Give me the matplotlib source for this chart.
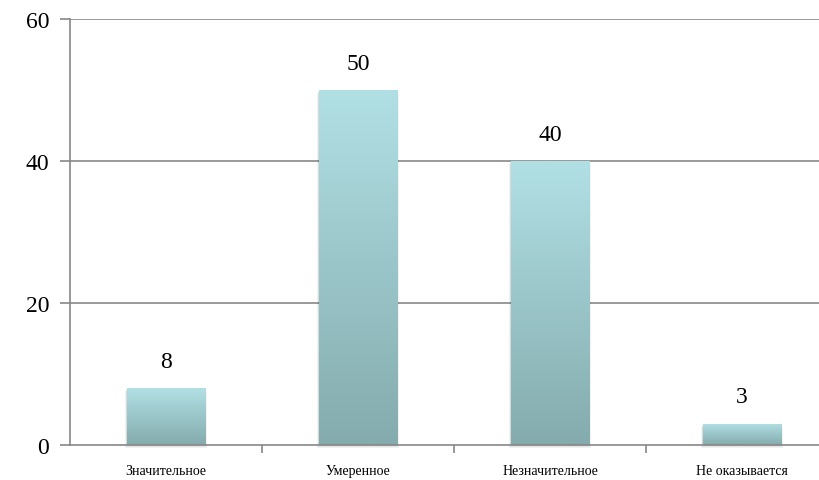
import matplotlib
matplotlib.use("Agg")
import matplotlib.pyplot as plt
import numpy as np
from matplotlib.colors import LinearSegmentedColormap

categories = ["Значительное", "Умеренное", "Незначительное", "Не оказывается"]
values = [8, 50, 40, 3]
yticks = [0, 20, 40, 60]

plt.rcParams['font.family'] = ['Liberation Serif', 'DejaVu Serif']

fig = plt.figure(figsize=(8.2, 4.81), dpi=100)
ax = fig.add_axes([70/820, 1-446/481, 768/820, 426/481])
ax.set_xlim(-0.5, 3.5)
ax.set_ylim(0, 60)

grid_c = "#878787"
for y in yticks[1:]:
    ax.axhline(y, color=grid_c, lw=1.2, zorder=0)

cmap = LinearSegmentedColormap.from_list("g", ["#84abad", "#b1e0e4"])
grad = np.linspace(0, 1, 256).reshape(-1, 1)
width = 0.41
bars = ax.bar(range(len(values)), values, width=width, color="none", zorder=2)
for i, (b, v) in enumerate(zip(bars, values)):
    x0 = b.get_x()
    # soft shadow
    for k, a in enumerate([0.05, 0.05, 0.05]):
        d = 0.004 * (k + 1)
        sh = plt.Rectangle((x0 - d * 0.5, -0.15 * (k + 1)), width + d, v,
                           color="#000000", alpha=a, zorder=1.5, clip_on=False, lw=0)
        ax.add_patch(sh)
    im = ax.imshow(grad, cmap=cmap, aspect="auto", origin="lower",
                   extent=(x0, x0 + width, 0, v), zorder=2)
    im.set_clip_path(b)
    ax.text(i, v + 2.3, str(v), ha="center", va="bottom", fontsize=17, color="#000000")

ax.set_aspect("auto")
ax.set_xlim(-0.5, 3.5)
ax.set_ylim(0, 60)

for s in ["top", "right"]:
    ax.spines[s].set_visible(False)
for s in ["left", "bottom"]:
    ax.spines[s].set_color(grid_c)
    ax.spines[s].set_linewidth(1.2)
ax.spines["bottom"].set_zorder(3)

ax.set_yticks(yticks)
ax.set_yticklabels([str(t) for t in yticks], fontsize=17)
ax.tick_params(axis="y", length=7, width=1.2, color=grid_c, pad=8)

ax.set_xticks(range(len(categories)))
ax.set_xticklabels(categories, fontsize=10)
ax.tick_params(axis="x", length=0, pad=14)
ax.set_xticks([0.5, 1.5, 2.5], minor=True)
ax.tick_params(axis="x", which="minor", length=6, width=1.2, color=grid_c)

fig.savefig("out.png", dpi=100)
